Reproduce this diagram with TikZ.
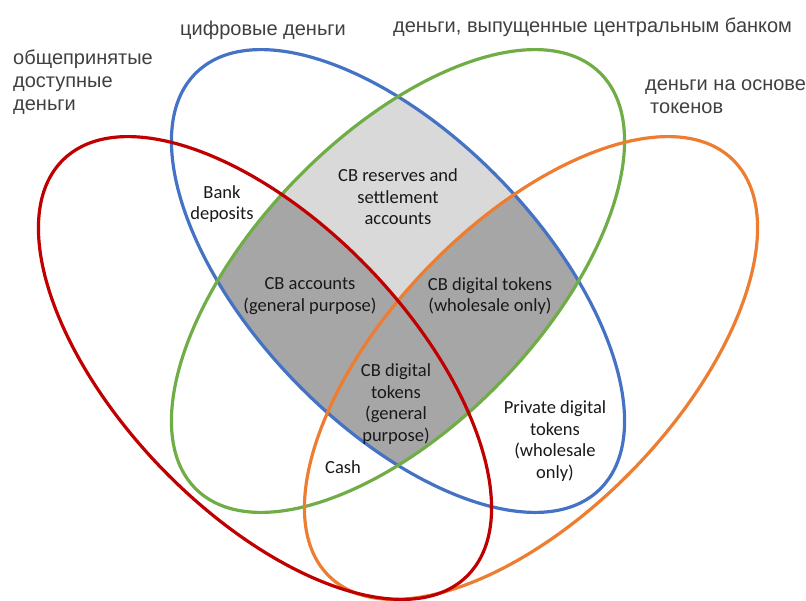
\documentclass[tikz,border=0pt]{standalone}
\usepackage{fontspec}
\setmainfont{Carlito}
\newfontfamily\rufont{Liberation Sans}
\usepackage{tikz}
\usetikzlibrary{positioning}

\definecolor{ringred}{HTML}{C00000}
\definecolor{ringblue}{HTML}{4472C4}
\definecolor{ringgreen}{HTML}{70AD47}
\definecolor{ringorange}{HTML}{ED7D31}
\definecolor{shadelight}{HTML}{D9D9D9}
\definecolor{shadedark}{HTML}{A6A6A6}
\definecolor{rutext}{HTML}{404040}

\tikzset{
    ring/.style={line width=3.2pt},
    cblabel/.style={align=center, inner sep=0pt, font=\fontsize{18.5}{21.5}\selectfont, text=black!90},
    rulabel/.style={align=left, inner sep=0pt, font=\rufont\fontsize{20}{23}\selectfont, text=rutext},
}

\begin{document}
\begin{tikzpicture}[x=1pt,y=-1pt]
    \useasboundingbox (0,0) rectangle (806,600);

    % shaded centre: digital and central bank money
    \begin{scope}
        \clip[rotate around={-46:(398,281)}] (398,281) ellipse [x radius=290, y radius=144];
        \clip[rotate around={46:(398,281)}] (398,281) ellipse [x radius=290, y radius=144];
        \fill[shadelight] (0,0) rectangle (806,600);
        \fill[shadedark, rotate around={-46:(265,368)}] (265,368) ellipse [x radius=290, y radius=144];
        \fill[shadedark, rotate around={46:(531,368)}] (531,368) ellipse [x radius=290, y radius=144];
    \end{scope}

    \draw[ring, ringblue, rotate around={-46:(398,281)}] (398,281) ellipse [x radius=290, y radius=144];
    \draw[ring, ringgreen, rotate around={46:(398,281)}] (398,281) ellipse [x radius=290, y radius=144];
    \draw[ring, ringorange, rotate around={46:(531,368)}] (531,368) ellipse [x radius=290, y radius=144];
    \draw[ring, ringred, rotate around={-46:(265,368)}] (265,368) ellipse [x radius=290, y radius=144];

    \node[rulabel, anchor=north west] (accessible) at (13,50) {общепринятые\\доступные\\деньги};
    \node[rulabel, anchor=base west] (digital) at (180,35) {цифровые деньги};
    \node[rulabel, anchor=base west] (cbissued) at (393,32) {деньги, выпущенные центральным банком};
    \node[rulabel, anchor=north west] (tokenbased) at (645,80) {деньги на основе\\\hspace*{5pt}токенов};

    \node[cblabel] (bankdep) at (222,204) {Bank\\deposits};
    \node[cblabel] (cbreserves) at (398,197) {CB reserves and\\settlement\\accounts};
    \node[cblabel] (cbaccounts) at (310,296) {CB accounts\\(general purpose)};
    \node[cblabel] (cbwholesale) at (490,296) {CB digital tokens\\(wholesale only)};
    \node[cblabel] (cbgeneral) at (396,404) {CB digital\\tokens\\(general\\purpose)};
    \node[cblabel] (cash) at (343,467) {Cash};
    \node[cblabel] (private) at (555,441) {Private digital\\tokens\\(wholesale\\only)};
\end{tikzpicture}
\end{document}
